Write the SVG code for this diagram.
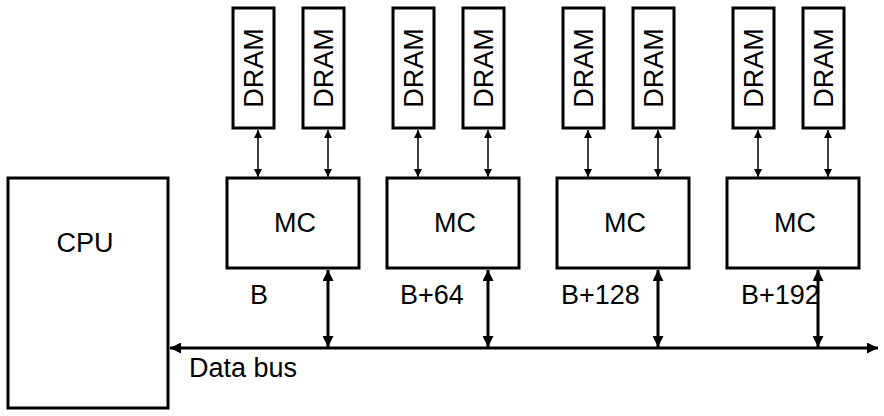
<svg xmlns="http://www.w3.org/2000/svg" width="884" height="416" viewBox="0 0 884 416">
<defs>
<marker id="a" viewBox="0 0 10 10" refX="10" refY="5" markerWidth="8" markerHeight="8" orient="auto-start-reverse" markerUnits="userSpaceOnUse"><path d="M0,0L10,5L0,10z" fill="#000"/></marker>
<marker id="b" viewBox="0 0 10 10" refX="10" refY="5" markerWidth="11" markerHeight="11" orient="auto-start-reverse" markerUnits="userSpaceOnUse"><path d="M0,0L10,5L0,10z" fill="#000"/></marker>
</defs>
<style>
rect{fill:#fff;stroke:#000;stroke-width:3}
text{font-family:"Liberation Sans",Arial,sans-serif;font-size:27px;fill:#000}
.d{text-anchor:middle}
.t{stroke:#000;stroke-width:1.5;fill:none;marker-start:url(#a);marker-end:url(#a)}
.k{stroke:#000;stroke-width:3;fill:none;marker-start:url(#b);marker-end:url(#b)}
</style>
<g id="cpu"><rect x="8" y="178" width="160" height="230"/><text x="85" y="252" class="d">CPU</text></g>
<g id="dram1"><rect x="233" y="8" width="41" height="120"/><text transform="translate(263,68) rotate(-90)" class="d">DRAM</text></g>
<g id="dram2"><rect x="303" y="8" width="41" height="120"/><text transform="translate(333,68) rotate(-90)" class="d">DRAM</text></g>
<g id="dram3"><rect x="393" y="8" width="41" height="120"/><text transform="translate(423,68) rotate(-90)" class="d">DRAM</text></g>
<g id="dram4"><rect x="463" y="8" width="41" height="120"/><text transform="translate(493,68) rotate(-90)" class="d">DRAM</text></g>
<g id="dram5"><rect x="563" y="8" width="41" height="120"/><text transform="translate(593,68) rotate(-90)" class="d">DRAM</text></g>
<g id="dram6"><rect x="633" y="8" width="41" height="120"/><text transform="translate(663,68) rotate(-90)" class="d">DRAM</text></g>
<g id="dram7"><rect x="733" y="8" width="41" height="120"/><text transform="translate(763,68) rotate(-90)" class="d">DRAM</text></g>
<g id="dram8"><rect x="803" y="8" width="41" height="120"/><text transform="translate(833,68) rotate(-90)" class="d">DRAM</text></g>
<g id="mc1"><rect x="227" y="178" width="132" height="90"/><text x="295" y="232" class="d">MC</text></g>
<g id="mc2"><rect x="387" y="178" width="132" height="90"/><text x="455" y="232" class="d">MC</text></g>
<g id="mc3"><rect x="557" y="178" width="132" height="90"/><text x="625" y="232" class="d">MC</text></g>
<g id="mc4"><rect x="727" y="178" width="132" height="90"/><text x="795" y="232" class="d">MC</text></g>
<g id="labels">
<text x="250" y="304">B</text><text x="400" y="304">B+64</text><text x="561" y="304">B+128</text><text x="741" y="304">B+192</text>
<text x="189" y="377">Data bus</text>
</g>
<g id="connectors">
<path class="t" d="M258,130V177"/><path class="t" d="M328,130V177"/>
<path class="t" d="M418,130V177"/><path class="t" d="M488,130V177"/>
<path class="t" d="M588,130V177"/><path class="t" d="M658,130V177"/>
<path class="t" d="M758,130V177"/><path class="t" d="M828,130V177"/>
<path class="k" d="M328,270V347"/><path class="k" d="M488,270V347"/>
<path class="k" d="M658,270V347"/><path class="k" d="M818,270V347"/>
<path class="k" d="M170,348H878"/>
</g>
</svg>
